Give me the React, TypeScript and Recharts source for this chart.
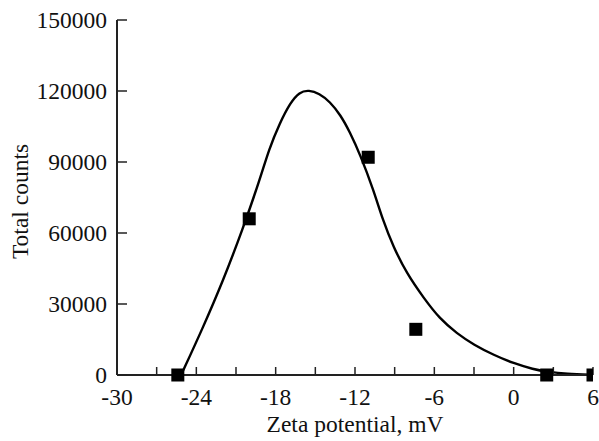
import React from 'react';
import { ComposedChart, Line, Scatter, XAxis, YAxis } from 'recharts';

// fitted curve
const curveX = [-25.15, -23.5, -22.0, -20.5, -19.2, -18.5, -17.7, -16.9, -16.2, -15.5, -14.7, -13.9, -13.1, -12.4, -11.6, -10.6, -9.9, -9.1, -8.1, -6.8, -5.6, -4.3, -3.0, -1.5, 0, 1.5, 2.5, 4.0, 6.0];
const curveY = [0, 20000, 39500, 61500, 82500, 95500, 106300, 115000, 119600, 120400, 119000, 115500, 109900, 102800, 93000, 78200, 65500, 54200, 43000, 32500, 23800, 17600, 12700, 8450, 4900, 2400, 1400, 400, 100];

// measured points (squares)
const pointX = [-25.4, -20.0, -11.0, -7.4, 2.5, 6.0];
const pointY = [0, 66000, 92000, 19300, 0, 0];

const xTicks = [-30, -27, -24, -21, -18, -15, -12, -9, -6, -3, 0, 3, 6];
const xLabels = [-30, -24, -18, -12, -6, 0, 6];
const yTicks = [0, 30000, 60000, 90000, 120000, 150000];

const curveData = curveX.map((x, i) => ({ x, y: curveY[i] }));
const pointData = pointX.map((x, i) => ({ x, y: pointY[i] }));

const FONT = '"Liberation Serif", "Times New Roman", serif';
const FS = 23.5;
const tickStyle = { fill: '#111', fontSize: FS, fontFamily: FONT };

const Square = (props: any) => {
    const { cx, cy } = props;
    if (cx == null || cy == null) return null;
    return <rect x={cx - 6.5} y={cy - 6.5} width={13} height={13} fill="#000" />;
};

const YTitle = (props: any) => {
    const vb = props.viewBox || {};
    const cy = vb.y + vb.height / 2 + 4;
    return (
        <text
            x={28}
            y={cy}
            transform={`rotate(-90 28 ${cy})`}
            textAnchor="middle"
            fill="#111"
            fontSize={FS}
            fontFamily={FONT}
        >
            Total counts
        </text>
    );
};

export default function App() {
    return (
        <div style={{ position: 'absolute', left: 0, top: 0, width: 599, height: 441, background: '#fff' }}>
            <ComposedChart width={599} height={441} margin={{ top: 20, right: 6, bottom: 0, left: 0 }}>
                <XAxis
                    type="number"
                    dataKey="x"
                    domain={[-30, 6]}
                    ticks={xTicks}
                    interval={0}
                    allowDataOverflow
                    height={66}
                    tickSize={-8}
                    tickMargin={21}
                    tick={tickStyle}
                    tickFormatter={(v: number) => (xLabels.includes(v) ? String(v) : '')}
                    axisLine={{ stroke: '#222', strokeWidth: 2 }}
                    tickLine={{ stroke: '#222', strokeWidth: 1.5 }}
                    label={{
                        value: 'Zeta potential, mV',
                        position: 'insideBottom',
                        offset: 9,
                        fill: '#111',
                        fontSize: FS,
                        fontFamily: FONT,
                    }}
                />
                <YAxis
                    type="number"
                    dataKey="y"
                    domain={[0, 150000]}
                    ticks={yTicks}
                    interval={0}
                    width={117}
                    tickSize={-10}
                    tickMargin={20}
                    tick={tickStyle}
                    axisLine={{ stroke: '#222', strokeWidth: 2 }}
                    tickLine={{ stroke: '#222', strokeWidth: 1.5 }}
                    label={<YTitle />}
                />
                <Line
                    data={curveData}
                    dataKey="y"
                    type="basis"
                    stroke="#000"
                    strokeWidth={2.4}
                    dot={false}
                    activeDot={false}
                    isAnimationActive={false}
                />
                <Scatter data={pointData} dataKey="y" shape={<Square />} isAnimationActive={false} />
            </ComposedChart>
        </div>
    );
}
